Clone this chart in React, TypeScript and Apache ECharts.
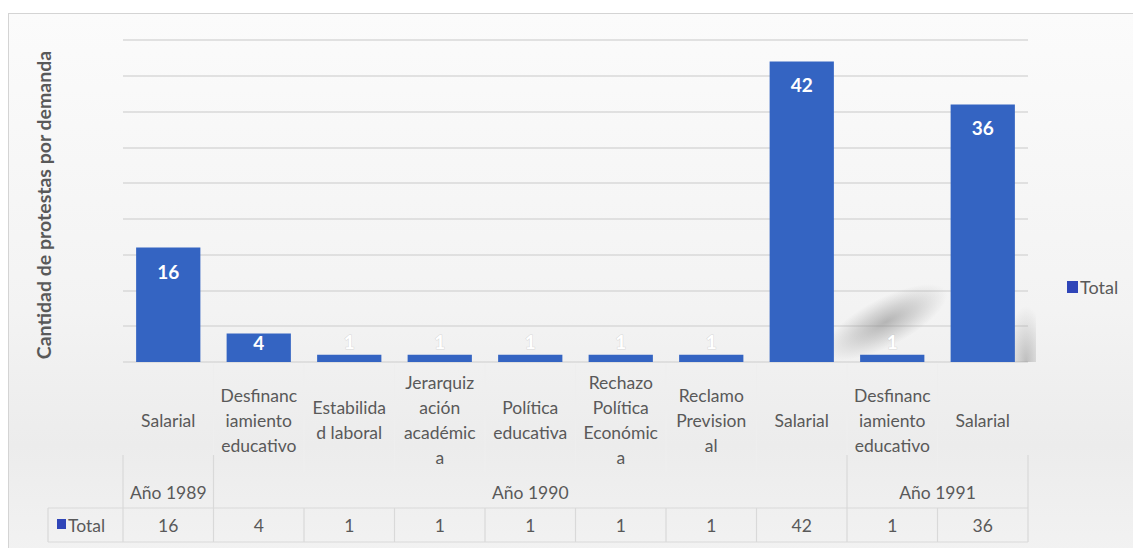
import React, { useEffect, useRef } from "react";
import * as echarts from "echarts";

const categories = [
  "Salarial",
  "Desfinanciamiento educativo",
  "Estabilidad laboral",
  "Jerarquización académica",
  "Política educativa",
  "Rechazo Política Económica",
  "Reclamo Previsional",
  "Salarial",
  "Desfinanciamiento educativo",
  "Salarial",
];
const categoryLabels = [
  "Salarial",
  "Desfinanc\niamiento\neducativo",
  "Estabilida\nd laboral",
  "Jerarquiz\nación\nacadémic\na",
  "Política\neducativa",
  "Rechazo\nPolítica\nEconómic\na",
  "Reclamo\nPrevision\nal",
  "Salarial",
  "Desfinanc\niamiento\neducativo",
  "Salarial",
];
const values = [16, 4, 1, 1, 1, 1, 1, 42, 1, 36];
const years = ["Año 1989", "Año 1990", "Año 1991"];
const yearSpans = [1, 7, 2];
const seriesName = "Total";
const yTitle = "Cantidad de protestas por demanda";

const FONT = "Lato, 'Open Sans', sans-serif";
const TEXT = "#595959";
const BAR = "#3464c2";
const LINE = "#d9d9d9";

export default function App() {
  const ref = useRef<HTMLDivElement>(null);

  useEffect(() => {
    const el = ref.current!;
    const chart = echarts.init(el, null, { renderer: "svg" });
    const gL = 123;
    const gR = 1028;
    const gT = 40;
    const gB = 362;

    chart.setOption({
      animation: false,
      textStyle: { fontFamily: FONT },
      grid: { left: gL, top: gT, width: gR - gL, height: gB - gT },
      legend: {
        data: [{ name: seriesName, itemStyle: { color: "#2f45b8" } }],
        left: 1062,
        top: 273,
        icon: "rect",
        itemWidth: 11,
        itemHeight: 12,
        itemGap: 4,
        textStyle: { fontSize: 18, color: TEXT, fontFamily: FONT, padding: [0, 0, 0, -3] },
      },
      xAxis: [
        {
          type: "category",
          data: categories,
          axisLine: { show: false },
          axisTick: { show: false },
          axisLabel: {
            interval: 0,
            formatter: (_v: string, i: number) => categoryLabels[i],
            verticalAlign: "middle",
            margin: 58,
            fontSize: 17.5,
            lineHeight: 25,
            color: TEXT,
            fontFamily: FONT,
          },
        },
        {
          type: "category",
          data: categories,
          position: "bottom",
          offset: 163,
          axisLine: { show: false },
          axisTick: { show: false },
          axisLabel: {
            interval: 0,
            formatter: (_v: string, i: number) => String(values[i]),
            verticalAlign: "middle",
            margin: 0,
            fontSize: 17.5,
            color: TEXT,
            fontFamily: FONT,
          },
        },
      ],
      yAxis: {
        type: "value",
        min: 0,
        max: 45,
        interval: 5,
        axisLabel: { show: false },
        axisLine: { show: false },
        axisTick: { show: false },
        splitLine: { lineStyle: { color: LINE, width: 1.5 } },
        name: yTitle,
        nameLocation: "middle",
        nameRotate: 90,
        nameGap: 70,
        nameTextStyle: { fontSize: 19.5, fontWeight: "bold", color: TEXT, fontFamily: FONT, padding: [0, 8, 0, 0] },
      },
      series: [
        {
          type: "bar",
          name: seriesName,
          barWidth: "71%",
          itemStyle: { color: BAR },
          z: 3,
          data: values.map((v) => {
            if (v >= 10) {
              return {
                value: v,
                label: { position: "insideTop", distance: 14 },
              };
            }
            if (v >= 3) {
              return { value: v, label: { position: "insideTop", distance: 0 } };
            }
            return {
              value: v,
              label: {
                position: "top",
                distance: 4,
                color: "#ffffff",
                textBorderColor: "rgba(200,200,200,0.6)",
                textBorderWidth: 1,
              },
            };
          }),
          label: {
            show: true,
            color: "#ffffff",
            fontSize: 19,
            fontWeight: "bold",
            fontFamily: FONT,
          },
        },
      ],
    });

    const n = categories.length;
    const band = (gR - gL) / n;
    const edge = (i: number) => (chart.convertToPixel({ xAxisIndex: 0 }, i) as number) - band / 2;
    const rightEdge = edge(n - 1) + band;
    const tTop = 508;
    const tBot = 542;
    const tLeft = 48;
    const g: any[] = [];
    const ln = (x1: number, y1: number, x2: number, y2: number, color = LINE) =>
      g.push({
        type: "line",
        silent: true,
        shape: { x1, y1, x2, y2 },
        style: { stroke: color, lineWidth: 1.2 },
      });
    // data table
    ln(tLeft, tTop, rightEdge, tTop);
    ln(tLeft, tBot, rightEdge, tBot);
    ln(tLeft, tTop, tLeft, tBot);
    for (let i = 0; i <= n; i++) {
      const x = i === n ? rightEdge : edge(i);
      ln(x, tTop, x, tBot);
    }
    // faint tick separators in the label level
    for (let i = 1; i < n; i++) {
      ln(edge(i), gB + 2, edge(i), 472, "#eeeeee");
    }
    // year groups
    let start = 0;
    years.forEach((y, k) => {
      const x0 = edge(start);
      const x1 = start + yearSpans[k] === n ? rightEdge : edge(start + yearSpans[k]);
      ln(x0, 455, x0, tTop);
      g.push({
        type: "text",
        silent: true,
        x: (x0 + x1) / 2,
        y: 492,
        style: {
          text: y,
          fill: TEXT,
          font: `17.5px ${FONT}`,
          align: "center",
          verticalAlign: "middle",
        },
      });
      start += yearSpans[k];
    });
    ln(rightEdge, 455, rightEdge, tTop);
    // data table legend key
    g.push({
      type: "rect",
      silent: true,
      shape: { x: 57, y: 519, width: 9, height: 10 },
      style: { fill: "#2f45b8" },
    });
    g.push({
      type: "text",
      silent: true,
      x: 68,
      y: 525,
      style: { text: seriesName, fill: TEXT, font: `17.5px ${FONT}`, align: "left", verticalAlign: "middle" },
    });
    // soft shadow blur near the right bars
    g.push({
      type: "ellipse",
      silent: true,
      z: 1,
      x: 886,
      y: 322,
      rotation: 0.48,
      shape: { cx: 0, cy: 0, rx: 68, ry: 24 },
      style: {
        fill: new echarts.graphic.RadialGradient(0.5, 0.5, 0.5, [
          { offset: 0, color: "rgba(130,130,130,0.55)" },
          { offset: 0.5, color: "rgba(140,140,140,0.3)" },
          { offset: 1, color: "rgba(150,150,150,0)" },
        ]),
      },
    });
    g.push({
      type: "rect",
      silent: true,
      z: 1,
      shape: { x: 1014, y: 300, width: 22, height: 62 },
      style: {
        fill: new echarts.graphic.RadialGradient(0.55, 1, 0.9, [
          { offset: 0, color: "rgba(140,140,140,0.5)" },
          { offset: 1, color: "rgba(150,150,150,0)" },
        ]),
      },
    });
    chart.setOption({ graphic: g });

    return () => chart.dispose();
  }, []);

  return (
    <div style={{ position: "fixed", left: 0, top: 0, width: 1133, height: 548, background: "#ffffff" }}>
      <div
        style={{
          position: "absolute",
          left: 8,
          top: 13,
          width: 1130,
          height: 540,
          border: "1px solid #d4d4d4",
          background: "linear-gradient(180deg, #fbfbfb 0%, #f3f3f3 55%, #ececec 80%, #f2f2f2 100%)",
        }}
      />
      <div ref={ref} style={{ position: "absolute", left: 0, top: 0, width: 1133, height: 548 }} />
    </div>
  );
}
